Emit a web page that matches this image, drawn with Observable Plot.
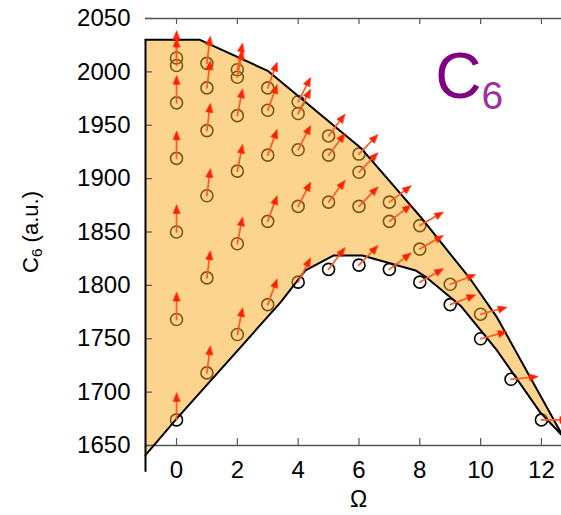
<!DOCTYPE html>
<html>
<head>
<meta charset="utf-8">
<script src="https://cdn.jsdelivr.net/npm/d3@7"></script>
<script src="https://cdn.jsdelivr.net/npm/@observablehq/plot@0.6"></script>
<style>
  body { margin: 0; background: #fff; }
  #chart svg { display: block; }
</style>
</head>
<body>
<div id="chart"></div>
<script>
// ---- data ----
const omega = [0, 1, 2, 3, 4, 5, 6, 7, 8, 9, 10, 11, 12];
const c6Values = [
  [2013, 2006, 1971, 1919, 1850, 1768, 1674],
  [2008, 1985, 1945, 1884, 1807, 1718],
  [2002, 1995, 1959, 1907, 1839, 1754],
  [1985, 1964, 1922, 1860, 1782],
  [1972, 1961, 1927, 1874, 1803],
  [1940, 1922, 1878, 1815],
  [1923, 1906, 1874, 1819],
  [1878, 1860, 1815],
  [1856, 1834, 1803],
  [1801, 1782],
  [1773, 1750],
  [1712],
  [1674]
];
// arrow direction per Ω (degrees clockwise from straight up)
const arrowAngle = [0, 7, 11, 20, 27, 37, 44, 53, 60, 69, 75, 84, 90];

// boundary of the shaded region
const upperOmega = [-1.02, 0.77, 3.0, 6.05, 7.15, 8.0, 9.66, 10.54, 12.66];
const upperC6    = [2030, 2030, 2001, 1929, 1893, 1865, 1806, 1770, 1661];
const lowerOmega = [-1.02, 0, 3.42, 4.24, 5.17, 6.11, 7.86, 8.24, 9.34, 10.54, 11.96, 12.66];
const lowerC6    = [1641, 1675, 1784, 1814, 1828, 1828, 1814, 1807, 1781, 1739, 1681, 1660];
const leftEdgeOmega = [-1.02, -1.02];
const leftEdgeC6    = [1626, 2030];

const xTicks = [0, 2, 4, 6, 8, 10, 12];
const yTicks = [1650, 1700, 1750, 1800, 1850, 1900, 1950, 2000, 2050];
const xDomain = [-1.02, 12.66];
const yDomain = [1650, 2050];

// ---- derived tables ----
const points = omega.flatMap((w, i) => c6Values[i].map(v => ({omega: w, c6: v, angle: arrowAngle[i]})));
const toRows = (xs, ys) => xs.map((x, i) => ({omega: x, c6: ys[i]}));
const upper = toRows(upperOmega, upperC6);
const lower = toRows(lowerOmega, lowerC6);
const leftEdge = toRows(leftEdgeOmega, leftEdgeC6);
const polygon = [...upper, ...lower.slice().reverse()];

const W = 561, H = 515, mL = 145, mR = 0, mT = 18, mB = 70;
const plotW = W - mL - mR, plotH = H - mT - mB;
const gray = "#555";

function arrowMarks() {
  const shaft = {draw(ctx, l) { ctx.moveTo(0, 0); ctx.lineTo(0, -l + 5); }};
  const head = {draw(ctx, l) { ctx.moveTo(0, -l); ctx.lineTo(-3.4, -l + 8.5); ctx.lineTo(3.4, -l + 8.5); ctx.closePath(); }};
  const base = {x: "omega", y: "c6", rotate: "angle", length: 27, anchor: "start"};
  try {
    return [
      Plot.vector(points, {...base, shape: shaft, stroke: "#ff5a1f", strokeWidth: 1.7}),
      Plot.vector(points, {...base, shape: head, stroke: "#ff2200", fill: "#ff2200", strokeWidth: 0.6})
    ];
  } catch (e) {
    return [Plot.vector(points, {...base, shape: "arrow", stroke: "#ff4418", strokeWidth: 1.6})];
  }
}

const chart = Plot.plot({
  width: W, height: H,
  marginLeft: mL, marginRight: mR, marginTop: mT, marginBottom: mB,
  style: {fontFamily: "'Liberation Sans', Arial, Helvetica, sans-serif", fontSize: "24px", color: "black", background: "white"},
  x: {domain: xDomain, ticks: xTicks, tickSize: 0, tickPadding: 15, label: null, tickFormat: d => String(d)},
  y: {domain: yDomain, ticks: yTicks, tickSize: 0, tickPadding: 15, label: null, tickFormat: d => String(d)},
  marks: [
    Plot.dot(points, {x: "omega", y: "c6", r: 6, stroke: "black", strokeWidth: 1.6, fill: "none"}),
    Plot.line(polygon, {x: "omega", y: "c6", fill: "rgb(250,170,30)", fillOpacity: 0.5, stroke: "none"}),
    // frame (top and bottom) and inward ticks
    Plot.ruleY([yDomain[1], yDomain[0]], {stroke: gray, strokeWidth: 1.3}),
    Plot.ruleY(yTicks, {stroke: gray, strokeWidth: 1.2, insetRight: plotW - 7}),
    Plot.ruleX(xTicks, {stroke: gray, strokeWidth: 1.2, insetTop: plotH - 7}),
    Plot.ruleX(xTicks, {stroke: gray, strokeWidth: 1.2, insetBottom: plotH - 6}),
    // boundaries
    Plot.line(leftEdge, {x: "omega", y: "c6", stroke: "black", strokeWidth: 2}),
    Plot.line(upper, {x: "omega", y: "c6", stroke: "black", strokeWidth: 2}),
    Plot.line(lower, {x: "omega", y: "c6", stroke: "black", strokeWidth: 2}),
    ...arrowMarks(),
    // annotation
    Plot.text(["C"], {x: 8.51, y: 1975.7, text: d => d, fontSize: 64, fill: "#800080", textAnchor: "start", lineAnchor: "bottom"}),
    Plot.text(["6"], {x: 10.03, y: 1965.4, text: d => d, fontSize: 39, fill: "#9932a0", textAnchor: "start", lineAnchor: "bottom"}),
    // axis titles
    Plot.text(["Ω"], {text: d => d, frameAnchor: "bottom", dy: 61, dx: 5, fontSize: 23}),
    Plot.text(["C6 (a.u.)"], {text: d => d, frameAnchor: "left", rotate: -90, dx: -115, fontSize: 22, textAnchor: "middle"})
  ]
});

// subscript in the y title
d3.select(chart).selectAll("text").filter(function () { return this.textContent === "C6 (a.u.)"; }).each(function () {
  const t = d3.select(this);
  t.text(null);
  t.append("tspan").text("C");
  t.append("tspan").attr("font-size", "0.7em").attr("dy", "0.3em").text("6");
  t.append("tspan").attr("dy", "-0.21em").text(" (a.u.)");
});

document.getElementById("chart").appendChild(chart);
</script>
</body>
</html>
